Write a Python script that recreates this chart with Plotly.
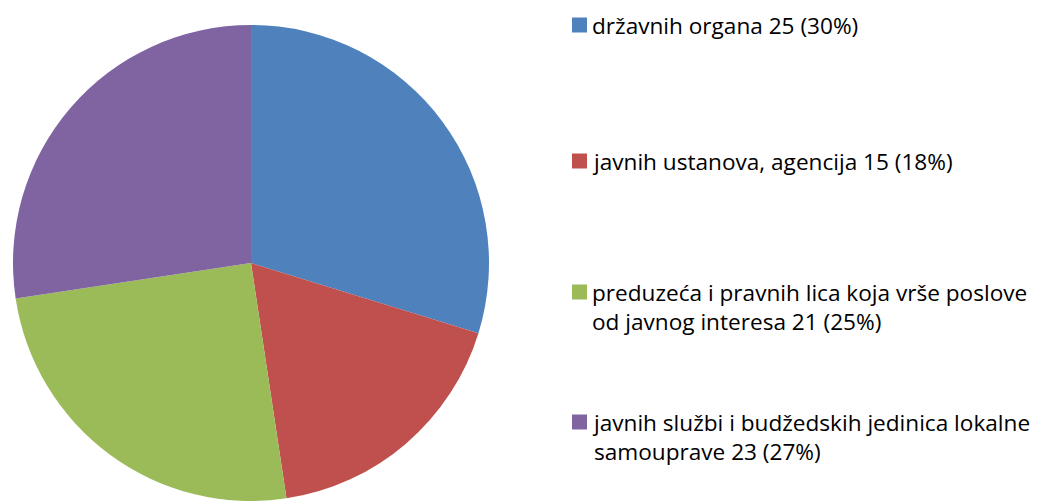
import plotly.graph_objects as go

categories = [
    "državnih organa",
    "javnih ustanova, agencija",
    "preduzeća i pravnih lica koja vrše poslove<br>od javnog interesa",
    "javnih službi i budžedskih jedinica lokalne<br>samouprave",
]
values = [25, 15, 21, 23]
percents = [30, 18, 25, 27]
colors = ["#4F81BD", "#C0504D", "#9BBB59", "#8064A2"]

OFF = 8  # page body margin
W, H = 1043 - OFF, 501 - OFF


def px_x(x):
    return (x - OFF) / W


def px_y(y):
    return 1 - (y - OFF) / H


fig = go.Figure(go.Pie(
    labels=categories,
    values=values,
    marker=dict(colors=colors, line=dict(width=0)),
    sort=False,
    direction="clockwise",
    rotation=0,
    textinfo="none",
    hoverinfo="label+value+percent",
    showlegend=False,
    domain=dict(x=[(13 - OFF) / W, (489 - OFF) / W], y=[0, 476 / H]),
))

# legend drawn as annotations + squares
legend_y = [25, 161, 292, 422]  # pixel centres of first line
font = dict(family="Open Sans, sans-serif", size=22.6, color="#000000")
shapes = []
annotations = []
for i, (cat, v, p) in enumerate(zip(categories, values, percents)):
    yc = legend_y[i]
    shapes.append(dict(
        type="rect", xref="paper", yref="paper",
        x0=px_x(572), x1=px_x(587),
        y0=px_y(yc + 7.5), y1=px_y(yc - 7.5),
        fillcolor=colors[i], line=dict(width=0),
    ))
    annotations.append(dict(
        xref="paper", yref="paper",
        x=px_x(590), y=px_y(yc - 17),
        xanchor="left", yanchor="top", align="left",
        text=f"{cat} {v} ({p}%)",
        showarrow=False, font=font,
    ))

fig.update_layout(
    width=W, height=H,
    margin=dict(l=0, r=0, t=0, b=0),
    paper_bgcolor="white",
    plot_bgcolor="white",
    shapes=shapes,
    annotations=annotations,
)

fig.write_html("out.html")
